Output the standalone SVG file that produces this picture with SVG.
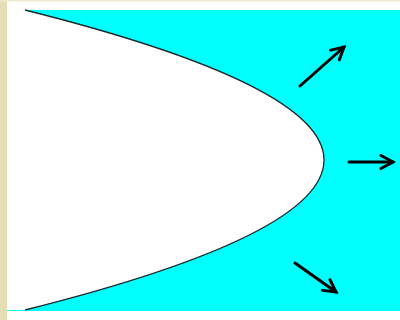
<svg xmlns="http://www.w3.org/2000/svg" width="400" height="320" viewBox="0 0 400 320">
  <style>
    .arrow { stroke: #000; stroke-width: 3; fill: none; stroke-linecap: round; marker-end: url(#head); }
  </style>
  <defs>
    <marker id="head" markerUnits="userSpaceOnUse" viewBox="0 0 18 18" refX="15" refY="9" markerWidth="18" markerHeight="18" orient="auto">
      <path d="M3,2.5 L15,9 L3,15.5" fill="none" stroke="#000" stroke-width="3" stroke-linecap="round" stroke-linejoin="miter"/>
    </marker>
  </defs>
  <rect x="0" y="0" width="400" height="320" fill="#ffffff"/>
  <rect x="0" y="0" width="7" height="320" fill="#e6deb4"/>
  <rect x="0" y="0" width="400" height="1.5" fill="#efe9cc"/>
  <g id="region">
    <rect x="7" y="10" width="393" height="301" fill="#00ffff"/>
    <path d="M25,10 Q623,160 25,310 L7,310 L7,10 Z" fill="#ffffff"/>
    <path d="M25,10 Q623,160 25,310" fill="none" stroke="#1a2a2a" stroke-width="1.3"/>
  </g>
  <g id="connectors">
    <line class="arrow" x1="300" y1="86" x2="344" y2="47"/>
    <line class="arrow" x1="349" y1="162" x2="393" y2="162"/>
    <line class="arrow" x1="295" y1="263" x2="336" y2="292"/>
  </g>
</svg>
